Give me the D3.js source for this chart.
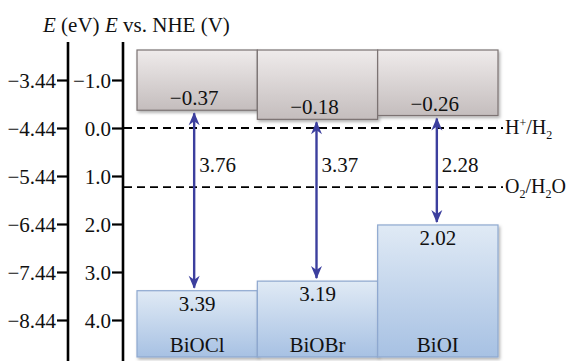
<!DOCTYPE html>
<html>
<head>
<meta charset="utf-8">
<script src="https://cdn.jsdelivr.net/npm/d3@7"></script>
<style>
  html, body { margin: 0; padding: 0; background: #fff; }
  svg { display: block; }
  svg text { font-family: "Liberation Serif", "Times New Roman", Times, "DejaVu Serif", serif !important; fill: #111; }
</style>
</head>
<body>
<svg id="chart" width="571" height="361"></svg>
<script>
// Band-edge positions of the three bismuth oxyhalides (V vs. NHE)
const materials = ["BiOCl", "BiOBr", "BiOI"];
const conductionBand = [-0.37, -0.18, -0.26];
const valenceBand = [3.39, 3.19, 2.02];
const bandGapLabels = ["3.76", "3.37", "2.28"];

// Axis ticks: NHE scale and the matching vacuum-level energy (E = -4.44 - V)
const nheTicks = [-1.0, 0.0, 1.0, 2.0, 3.0, 4.0];
const nheTickLabels = ["\u22121.0", "0.0", "1.0", "2.0", "3.0", "4.0"];
const vacuumTickLabels = ["\u22123.44", "\u22124.44", "\u22125.44", "\u22126.44", "\u22127.44", "\u22128.44"];

// Redox reference potentials
const redoxPotentials = [0.0, 1.23];
const redoxNames = [
  [["H", ""], ["+", "sup"], ["/H", ""], ["2", "sub"]],
  [["O", ""], ["2", "sub"], ["/H", ""], ["2", "sub"], ["O", ""]]
];

// Extent of the drawn band blocks (V vs. NHE)
const blockTop = -1.625;
const blockBottom = 4.77;

const svg = d3.select("#chart");
const fontSize = 21;
const serif = "'Liberation Serif', 'Times New Roman', Times, serif";

const y = d3.scaleLinear().domain([-1, 4]).range([80, 320]);
const x = d3.scaleBand().domain(materials).range([137, 498]).padding(0);

const defs = svg.append("defs");

const grayGrad = defs.append("linearGradient").attr("id", "cbFill")
  .attr("x1", 0).attr("y1", 0).attr("x2", 0).attr("y2", 1);
grayGrad.append("stop").attr("offset", "0%").attr("stop-color", "#efebeb");
grayGrad.append("stop").attr("offset", "100%").attr("stop-color", "#c4bdbd");

const blueGrad = defs.append("linearGradient").attr("id", "vbFill")
  .attr("x1", 0).attr("y1", 0).attr("x2", 0).attr("y2", 1);
blueGrad.append("stop").attr("offset", "0%").attr("stop-color", "#e0eaf5");
blueGrad.append("stop").attr("offset", "100%").attr("stop-color", "#a7c1e3");

const shadow = defs.append("filter").attr("id", "shadow")
  .attr("x", "-10%").attr("y", "-10%").attr("width", "130%").attr("height", "130%");
shadow.append("feDropShadow").attr("dx", 1.5).attr("dy", 2).attr("stdDeviation", 1.5)
  .attr("flood-color", "#000").attr("flood-opacity", 0.3);

const arrowColor = "#3c3f9e";
defs.append("marker").attr("id", "head")
  .attr("viewBox", "-14 -7 16 14")
  .attr("refX", 0).attr("refY", 0)
  .attr("markerWidth", 16).attr("markerHeight", 14)
  .attr("markerUnits", "userSpaceOnUse")
  .attr("orient", "auto-start-reverse")
  .append("path")
  .attr("d", "M1,0 L-12,-5.5 L-8,0 L-12,5.5 Z")
  .attr("fill", arrowColor);

function label(parent) {
  return parent.append("text").style("font-family", serif).attr("font-size", fontSize);
}

// Header titles
const header = label(svg).attr("x", 43).attr("y", 32);
header.append("tspan").attr("font-style", "italic").text("E");
header.append("tspan").text(" (eV)");
const header2 = label(svg).attr("x", 105).attr("y", 32);
header2.append("tspan").attr("font-style", "italic").text("E");
header2.append("tspan").text(" vs. NHE (V)");

// Two vertical axes sharing the same potential scale
function drawAxis(xPos, labels) {
  const g = svg.append("g").attr("transform", `translate(${xPos},0)`);
  g.call(d3.axisLeft(y).tickValues(nheTicks)
      .tickFormat((d, i) => labels[i])
      .tickSize(11).tickPadding(1));
  g.attr("font-family", null);
  g.select(".domain").remove();
  g.selectAll(".tick line").attr("stroke", "#000").attr("stroke-width", 2.2);
  g.selectAll(".tick text")
    .style("font-family", serif)
    .attr("font-size", fontSize).attr("fill", "#111").attr("dy", "0.34em");
  g.append("line").attr("x1", 0).attr("x2", 0).attr("y1", 42).attr("y2", 361)
    .attr("stroke", "#000").attr("stroke-width", 2.6);
}
drawAxis(68, vacuumTickLabels);
drawAxis(123, nheTickLabels);

// Redox reference lines
redoxPotentials.forEach((p, i) => {
  svg.append("line")
    .attr("x1", 124).attr("x2", 503)
    .attr("y1", y(p)).attr("y2", y(p))
    .attr("stroke", "#000").attr("stroke-width", 1.8)
    .attr("stroke-dasharray", "8,5");
  const t = label(svg).attr("x", 505).attr("y", y(p) + 6).attr("font-size", fontSize - 1);
  let shift = 0;
  redoxNames[i].forEach(([s, kind]) => {
    const ts = t.append("tspan").text(s);
    const target = kind === "sup" ? -7 : kind === "sub" ? 5 : 0;
    if (kind) ts.attr("font-size", 12);
    if (target !== shift) ts.attr("dy", target - shift);
    shift = target;
  });
});

// Valence-band blocks
const vb = svg.append("g");
materials.forEach((m, i) => {
  vb.append("rect")
    .attr("x", x(m)).attr("width", x.bandwidth())
    .attr("y", y(valenceBand[i])).attr("height", y(blockBottom) - y(valenceBand[i]))
    .attr("fill", "url(#vbFill)").attr("stroke", "#8ea8cf").attr("stroke-width", 1.2)
    .attr("filter", "url(#shadow)");
});
materials.forEach((m, i) => {
  const cx = x(m) + x.bandwidth() / 2;
  label(vb).attr("x", cx).attr("y", y(valenceBand[i]) + 20)
    .attr("text-anchor", "middle").text(valenceBand[i].toFixed(2));
  label(vb).attr("x", cx).attr("y", y(blockBottom) - 5)
    .attr("text-anchor", "middle").text(m);
});

// Conduction-band blocks
const cb = svg.append("g");
materials.forEach((m, i) => {
  cb.append("rect")
    .attr("x", x(m)).attr("width", x.bandwidth())
    .attr("y", y(blockTop)).attr("height", y(conductionBand[i]) - y(blockTop))
    .attr("fill", "url(#cbFill)").attr("stroke", "#7b7272").attr("stroke-width", 1.2)
    .attr("filter", "url(#shadow)");
});
materials.forEach((m, i) => {
  const cx = x(m) + x.bandwidth() / 2 - 3;
  label(cb).attr("x", cx).attr("y", y(conductionBand[i]) - 5)
    .attr("text-anchor", "middle")
    .text("\u2212" + Math.abs(conductionBand[i]).toFixed(2));
});

// Band-gap arrows
materials.forEach((m, i) => {
  const cx = x(m) + x.bandwidth() / 2 - (i === 0 ? 3 : 1);
  svg.append("line")
    .attr("x1", cx).attr("x2", cx)
    .attr("y1", y(conductionBand[i]) + 3).attr("y2", y(valenceBand[i]) - 3)
    .attr("stroke", arrowColor).attr("stroke-width", 2.4)
    .attr("marker-start", "url(#head)").attr("marker-end", "url(#head)");
  label(svg).attr("x", cx + 5).attr("y", 172).text(bandGapLabels[i]);
});
</script>
</body>
</html>
